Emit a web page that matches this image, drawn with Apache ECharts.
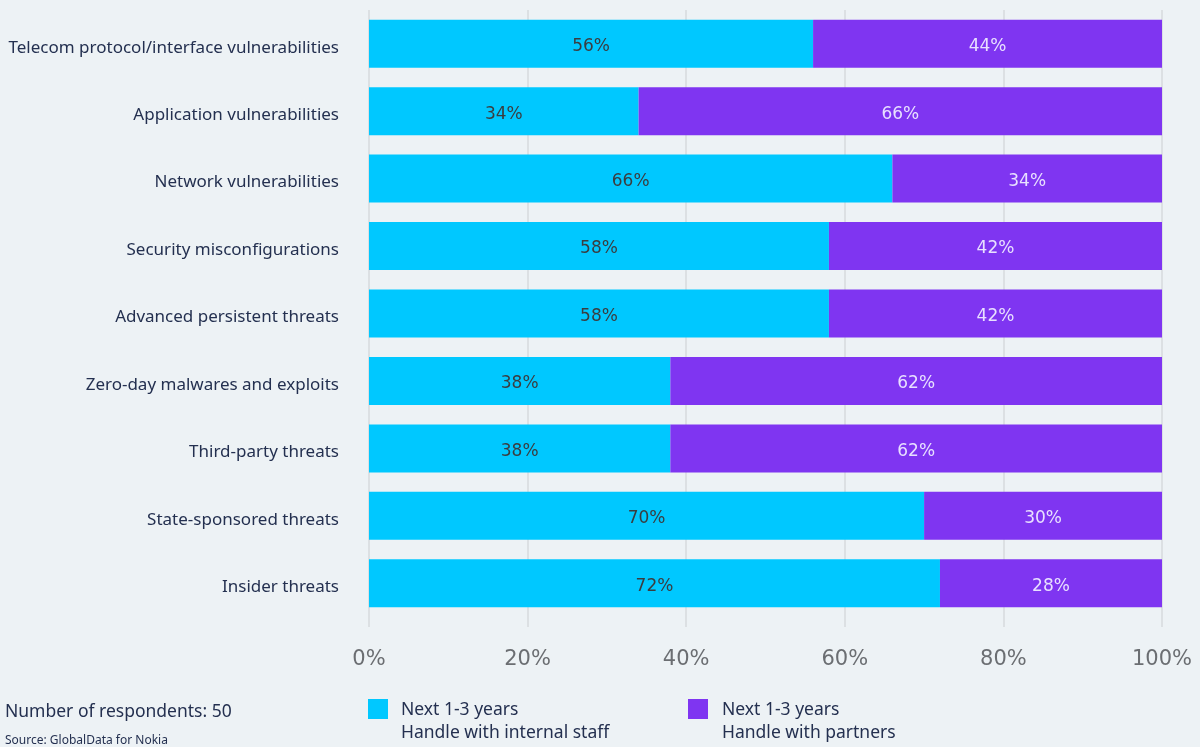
<!DOCTYPE html>
<html>
<head>
<meta charset="utf-8">
<script src="https://cdn.jsdelivr.net/npm/echarts@6/dist/echarts.min.js"></script>
<style>
  html, body { margin: 0; padding: 0; background: #edf2f5; }
  #main { width: 1200px; height: 747px; }
</style>
</head>
<body>
<div id="main"></div>
<script>
// categories top to bottom
var categories = [
  'Telecom protocol/interface vulnerabilities',
  'Application vulnerabilities',
  'Network vulnerabilities',
  'Security misconfigurations',
  'Advanced persistent threats',
  'Zero-day malwares and exploits',
  'Third-party threats',
  'State-sponsored threats',
  'Insider threats'
];
var internalStaff = [56, 34, 66, 58, 58, 38, 38, 70, 72];
var partners = [44, 66, 34, 42, 42, 62, 62, 30, 28];
var xTicks = [0, 20, 40, 60, 80, 100];

var internalName = 'Next 1-3 years\nHandle with internal staff';
var partnerName = 'Next 1-3 years\nHandle with partners';

var FONT = 'Noto Sans';
var chart = echarts.init(document.getElementById('main'));

chart.setOption({
  backgroundColor: '#edf2f5',
  textStyle: { fontFamily: FONT },
  animation: false,
  grid: { left: 369, right: 38, top: 10, bottom: 130 },
  xAxis: {
    type: 'value',
    min: xTicks[0], max: xTicks[xTicks.length - 1], interval: 20,
    axisLine: { show: false },
    axisTick: { show: true, length: 10, lineStyle: { color: '#d6dadd', width: 1.5 } },
    splitLine: { show: true, lineStyle: { color: '#d6dadd', width: 1.5 } },
    axisLabel: {
      margin: 32, fontSize: 21, color: '#6b6e72', fontFamily: 'DejaVu Sans',
      formatter: function (v) { return v + '%'; }
    }
  },
  yAxis: {
    type: 'category',
    inverse: true,
    data: categories,
    axisLine: { show: false },
    axisTick: { show: false },
    axisLabel: {
      margin: 30,
      formatter: function (v) { return '{c|' + v + '}'; },
      rich: { c: { fontSize: 17, color: '#243050', fontFamily: FONT, padding: [8, 0, 0, 0] } }
    }
  },
  series: [
    {
      name: internalName,
      type: 'bar',
      stack: 'total',
      barWidth: 48,
      itemStyle: { color: '#00c8ff' },
      label: {
        show: true, position: 'inside', offset: [0, 3], fontSize: 17, color: '#3a3d40', fontFamily: 'DejaVu Sans',
        formatter: function (p) { return p.value + '%'; }
      },
      data: internalStaff
    },
    {
      name: partnerName,
      type: 'bar',
      stack: 'total',
      barWidth: 48,
      itemStyle: { color: '#7f35f1' },
      label: {
        show: true, position: 'inside', offset: [0, 3], fontSize: 17, color: '#e8e0ff', fontFamily: 'DejaVu Sans',
        formatter: function (p) { return p.value + '%'; }
      },
      data: partners
    }
  ],
  graphic: [
    { type: 'rect', left: 368, top: 699, shape: { width: 20, height: 20 }, style: { fill: '#00c8ff' } },
    { type: 'text', left: 401, top: 699, style: { text: internalName, fontSize: 17.5, lineHeight: 23, fill: '#243050', fontFamily: FONT } },
    { type: 'rect', left: 688, top: 699, shape: { width: 20, height: 20 }, style: { fill: '#7f35f1' } },
    { type: 'text', left: 722, top: 699, style: { text: partnerName, fontSize: 17.5, lineHeight: 23, fill: '#243050', fontFamily: FONT } },
    { type: 'text', left: 5, top: 703, style: { text: 'Number of respondents: 50', fontSize: 17.5, fill: '#243050', fontFamily: FONT } },
    { type: 'text', left: 5, top: 735, style: { text: 'Source: GlobalData for Nokia', fontSize: 12, fill: '#243050', fontFamily: FONT } }
  ]
});
</script>
</body>
</html>
